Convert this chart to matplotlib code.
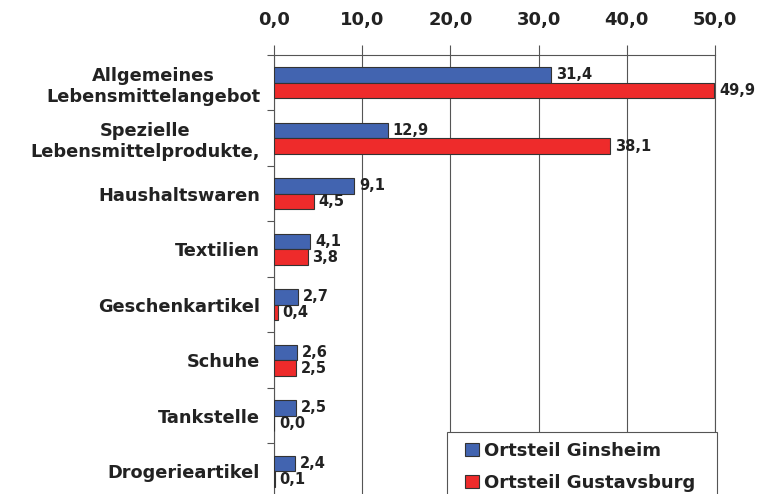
import numpy as np
import matplotlib
matplotlib.use("Agg")
import matplotlib.pyplot as plt
from matplotlib.patches import Rectangle

categories = ["Allgemeines\nLebensmittelangebot", "Spezielle\nLebensmittelprodukte,",
              "Haushaltswaren", "Textilien", "Geschenkartikel", "Schuhe",
              "Tankstelle", "Drogerieartikel"]
ginsheim = [31.4, 12.9, 9.1, 4.1, 2.7, 2.6, 2.5, 2.4]
gustavsburg = [49.9, 38.1, 4.5, 3.8, 0.4, 2.5, 0.0, 0.1]
series_names = ["Ortsteil Ginsheim", "Ortsteil Gustavsburg"]
x_ticks = [0, 10, 20, 30, 40, 50]

blue = "#4264B0"
red = "#EE2B2B"
txt = "#222222"

plt.rcParams['font.family'] = 'DejaVu Sans'
plt.rcParams['font.weight'] = 'bold'

fig = plt.figure(figsize=(7.7, 4.94), dpi=100)
ax = fig.add_axes([274 / 770, 1 - 499 / 494, 441 / 770, 444 / 494])

y = np.arange(len(categories))
h = 0.28
b1 = ax.barh(y - h / 2, ginsheim, height=h, color=blue, edgecolor="#333333", linewidth=0.8,
             label=series_names[0], zorder=3)
b2 = ax.barh(y + h / 2, gustavsburg, height=h, color=red, edgecolor="#333333", linewidth=0.8,
             label=series_names[1], zorder=3)

for bars, vals in [(b1, ginsheim), (b2, gustavsburg)]:
    for bar, v in zip(bars, vals):
        ax.text(v + 0.55, bar.get_y() + bar.get_height() / 2, f"{v:.1f}".replace(".", ","),
                va="center", ha="left", fontsize=10.5, fontweight="bold", color=txt, zorder=4)

ax.set_xlim(0, 50)
ax.set_ylim(len(categories) - 0.5, -0.5)
ax.set_xticks(x_ticks)
ax.set_xticklabels([f"{t:.1f}".replace(".", ",") for t in x_ticks], fontsize=13,
                   fontweight="bold", color=txt)
ax.xaxis.tick_top()
ax.tick_params(axis="x", length=7, color="#555555", pad=12)
ax.grid(axis="x", color="#555555", linewidth=0.8, zorder=0)

# category labels between boundary ticks
ax.set_yticks(np.arange(len(categories) + 1) - 0.5)
ax.set_yticklabels([])
ax.tick_params(axis="y", length=5, color="#555555")
ax.set_yticks(y, minor=True)
ax.set_yticklabels(categories, minor=True, fontsize=12.8, fontweight="bold", color=txt,
                   ha="right", multialignment="center")
ax.tick_params(axis="y", which="minor", length=0, pad=10)

ax.spines["bottom"].set_visible(False)
for s in ["top", "left", "right"]:
    ax.spines[s].set_color("#555555")
    ax.spines[s].set_linewidth(0.8)

# legend box (cut off at the bottom edge like the original)
box = Rectangle((447 / 770, 1 - 505 / 494), 270 / 770, 73 / 494,
                transform=fig.transFigure, facecolor="white", edgecolor="#555555",
                linewidth=0.8, zorder=5, clip_on=False)
ax.add_patch(box)
leg = ax.legend(loc="upper left", bbox_to_anchor=(465 / 770, 1 - 442 / 494),
                bbox_transform=fig.transFigure, frameon=False, handlelength=0.75,
                handleheight=0.75, handletextpad=0.3, borderpad=0, borderaxespad=0,
                labelspacing=0.75, prop={"weight": "bold", "size": 13})
leg.set_zorder(6)
for t in leg.get_texts():
    t.set_color(txt)

fig.savefig("out.png", dpi=100)
